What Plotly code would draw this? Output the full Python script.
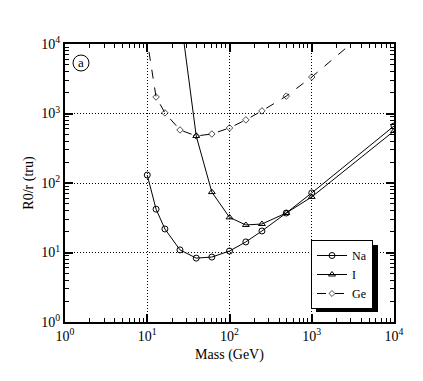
import plotly.graph_objects as go

mass_na = [10, 12.8, 16.4, 25, 39.4, 61, 100, 158, 248, 490, 1000, 10000]
rate_na = [130, 42, 21.8, 10.9, 8.3, 8.6, 10.5, 14.2, 20.4, 37, 72, 660]

mass_i = [25, 39.4, 61, 100, 158, 248, 490, 1000, 10000]
rate_i = [29000, 475, 74, 32, 24.9, 25.7, 37, 63, 560]

mass_ge = [10.5, 12.8, 16.4, 25, 39.4, 61, 100, 158, 248, 490, 1000, 10000]
rate_ge = [7700, 1730, 1020, 580, 475, 507, 620, 810, 1090, 1780, 3350, 33500]
ge_marker = [0, 5, 5, 5, 5, 5, 5, 5, 5, 5, 5, 5]

tick_vals = [1, 10, 100, 1000, 10000]
tick_text = ["10<sup>0</sup>", "10<sup>1</sup>", "10<sup>2</sup>", "10<sup>3</sup>", "10<sup>4</sup>"]
minor_mult = [2, 3, 4, 5, 6, 7, 8, 9]
minor_vals = [float(m * 10 ** e) for e in range(4) for m in minor_mult]

FONT = "Liberation Serif"

# plot-area geometry
L, T, PW, PH = 57, 36, 329, 278
W, H = 415, 373
X0, Y0 = 65, 322  # plot-area left / bottom in the window


def px(xp):
    return (xp - X0) / PW


def py(yp):
    return (Y0 - yp) / PH


fig = go.Figure()
fig.add_trace(go.Scatter(x=mass_na, y=rate_na, name="Na", mode="lines+markers",
                         line=dict(color="black", width=1),
                         marker=dict(symbol="circle-open", size=6, color="black", line=dict(width=1))))
fig.add_trace(go.Scatter(x=mass_i, y=rate_i, name="I", mode="lines+markers",
                         line=dict(color="black", width=1),
                         marker=dict(symbol="triangle-up-open", size=6, color="black", line=dict(width=1))))
fig.add_trace(go.Scatter(x=mass_ge, y=rate_ge, name="Ge", mode="lines+markers",
                         line=dict(color="black", width=1, dash="dash"),
                         marker=dict(symbol="diamond-open", size=ge_marker, color="black", line=dict(width=1))))

axis_common = dict(
    type="log", range=[0, 4],
    tickmode="array", tickvals=tick_vals, ticktext=tick_text,
    ticks="inside", ticklen=8, tickwidth=1.5, tickcolor="black",
    showline=True, linecolor="black", linewidth=2, mirror="ticks",
    showgrid=True, gridcolor="black", griddash="1px,2px", gridwidth=1,
    zeroline=False, automargin=False,
    minor=dict(tickmode="array", tickvals=minor_vals, ticks="inside", ticklen=4,
               tickwidth=1, tickcolor="black", showgrid=False),
    tickfont=dict(family=FONT, size=14, color="black"),
)

fig.update_layout(
    xaxis=dict(title=dict(text="Mass (GeV)", font=dict(family=FONT, size=14, color="black"), standoff=6),
               **axis_common),
    yaxis=dict(title=dict(text="R0/r (tru)", font=dict(family=FONT, size=14, color="black"), standoff=4),
               **axis_common),
)

# legend shadow
fig.add_shape(type="rect", xref="paper", yref="paper",
              x0=px(316), x1=px(378), y0=py(312), y1=py(245),
              fillcolor="black", line=dict(width=0), layer="above")
# (a) label
fig.add_shape(type="circle", xref="paper", yref="paper",
              x0=px(73), x1=px(89), y0=py(71), y1=py(55),
              line=dict(color="black", width=1))
fig.add_annotation(text="a", xref="paper", yref="paper", x=px(81), y=py(62),
                   xanchor="center", yanchor="middle",
                   showarrow=False, font=dict(family=FONT, size=13, color="black"))

fig.update_layout(
    width=W, height=H,
    margin=dict(l=L, r=W - L - PW, t=T, b=H - T - PH),
    paper_bgcolor="white", plot_bgcolor="white",
    font=dict(family=FONT, size=14, color="black"),
    showlegend=True,
    legend=dict(x=px(311), y=py(240), xanchor="left", yanchor="top",
                bgcolor="white", bordercolor="black", borderwidth=1,
                font=dict(family=FONT, size=12, color="black"),
                itemwidth=30, tracegroupgap=0),
)

fig.write_html("out.html")
